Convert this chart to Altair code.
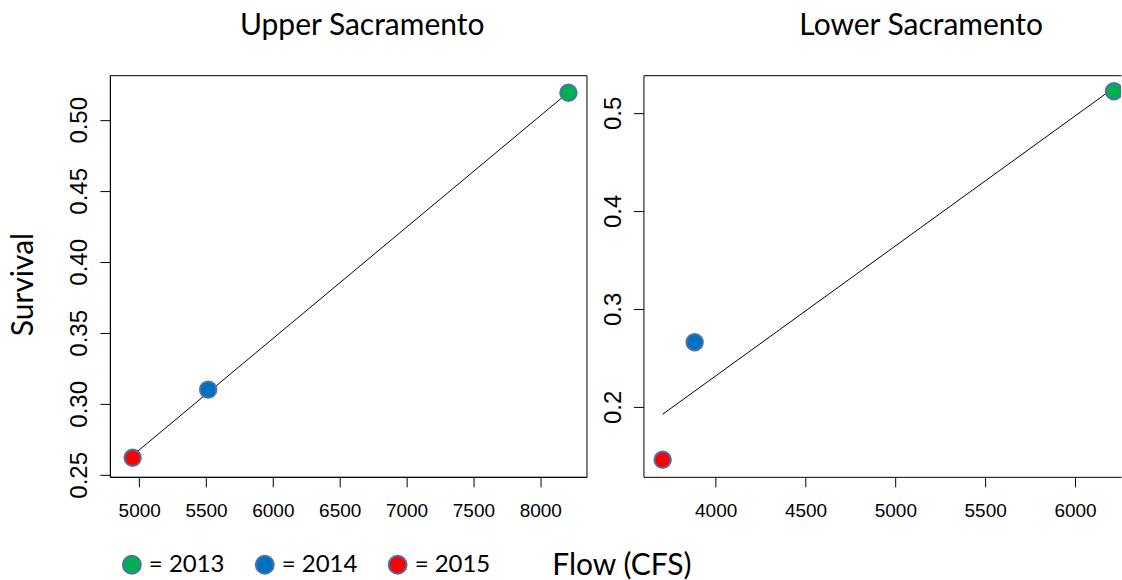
import altair as alt
import pandas as pd

# Survival vs. flow for the three release years
years = ["2013", "2014", "2015"]
upper_flow = [8211, 5516, 4951]
upper_survival = [0.519, 0.310, 0.262]
lower_flow = [6217, 3883, 3705]
lower_survival = [0.522, 0.266, 0.146]

upper_x_ticks = [5000, 5500, 6000, 6500, 7000, 7500, 8000]
upper_y_ticks = [0.25, 0.30, 0.35, 0.40, 0.45, 0.50]
lower_x_ticks = [4000, 4500, 5000, 5500, 6000]
lower_y_ticks = [0.2, 0.3, 0.4, 0.5]

year_colors = ["#00b050", "#0070c0", "#ff0000"]
outline = "#4a72a8"
TITLE_FONT = "Lato"
TICK_FONT = "Liberation Sans"

upper = pd.DataFrame({"year": years, "flow": upper_flow, "survival": upper_survival})
lower = pd.DataFrame({"year": years, "flow": lower_flow, "survival": lower_survival})

legend = alt.Legend(
    orient="none", legendX=10, legendY=478, direction="horizontal", columns=3,
    title=None, labelFont=TITLE_FONT, labelFontSize=24, labelColor="black",
    labelExpr="'= ' + datum.label", symbolType="circle", symbolSize=320,
    symbolStrokeColor=outline, symbolStrokeWidth=2, labelOffset=5,
    columnPadding=27, padding=0,
)
color = alt.Color("year:N", scale=alt.Scale(domain=years, range=year_colors), legend=legend)

W, H = 477, 402

# ---- Upper Sacramento ----
ux = alt.X("flow:Q", scale=alt.Scale(domain=[4781, 8346], nice=False, zero=False),
           axis=alt.Axis(values=upper_x_ticks, format="d", title="Flow (CFS)",
                         titleX=512, titleY=98, titleAlign="center",
                         titleBaseline="alphabetic", titleFont=TITLE_FONT,
                         titleFontSize=30, titleFontWeight="normal"))
uy = alt.Y("survival:Q", scale=alt.Scale(domain=[0.2486, 0.5314], nice=False, zero=False),
           axis=alt.Axis(values=upper_y_ticks, format=".2f", title="Survival",
                         titleX=-77, titleY=209, titleAngle=270, titleAlign="center",
                         titleBaseline="alphabetic", titleFont=TITLE_FONT,
                         titleFontSize=30, titleFontWeight="normal"))
u_base = alt.Chart(upper)
u_line = u_base.transform_regression("flow", "survival").mark_line(
    color="black", strokeWidth=1).encode(x=ux, y=uy)
u_pts = u_base.mark_point(filled=True, size=270, opacity=1, stroke=outline,
                          strokeWidth=2).encode(x=ux, y=uy, color=color)
left = alt.layer(u_line, u_pts).properties(
    width=W, height=H,
    title=alt.TitleParams("Upper Sacramento", dx=14, offset=10, baseline="alphabetic"),
)

# ---- Lower Sacramento ----
lx_scale = alt.Scale(domain=[3598, 6256], nice=False, zero=False)
ly = alt.Y("survival:Q", scale=alt.Scale(domain=[0.1286, 0.5384], nice=False, zero=False),
           axis=alt.Axis(values=lower_y_ticks, format=".1f", title=None))
l_base = alt.Chart(lower)
l_line = l_base.transform_regression("flow", "survival").mark_line(
    color="black", strokeWidth=1).encode(
    x=alt.X("flow:Q", scale=lx_scale,
            axis=alt.Axis(values=lower_x_ticks, format="d", title=None, orient="bottom")),
    y=ly)
l_pts = l_base.mark_point(filled=True, size=270, opacity=1, stroke=outline,
                          strokeWidth=2, clip=True).encode(
    x=alt.X("flow:Q", scale=lx_scale, axis=None), y=ly, color=color)
# frame line along the top edge
l_top = l_base.mark_point(opacity=0).encode(
    x=alt.X("flow:Q", scale=lx_scale,
            axis=alt.Axis(orient="top", labels=False, ticks=False, title=None, domain=True)),
    y=ly,
)
right = alt.layer(l_line, l_pts, l_top).resolve_axis(x="independent").properties(
    width=478, height=H,
    view=alt.ViewBackground(stroke="transparent"),
    title=alt.TitleParams("Lower Sacramento", dx=39, offset=10, baseline="alphabetic"),
)

chart = alt.hconcat(left, right, spacing=57, bounds="flush").properties(
    padding={"left": 8, "top": 10, "right": 0, "bottom": 0},
).configure_view(
    stroke="black", strokeWidth=1,
).configure_axis(
    grid=False, domainColor="black", domainWidth=1, tickColor="black",
    tickSize=10, tickWidth=1, labelFont=TICK_FONT, labelColor="black",
    labelOverlap=False, labelFlush=False,
).configure_axisX(
    labelFontSize=19, labelPadding=15,
).configure_axisY(
    labelFontSize=24, labelAngle=270, labelAlign="center", labelBaseline="bottom",
    labelPadding=8,
).configure_title(
    font=TITLE_FONT, fontSize=30, fontWeight="normal", color="black", anchor="middle",
)

chart.save("out.html", embed_options={"renderer": "svg", "actions": False})
